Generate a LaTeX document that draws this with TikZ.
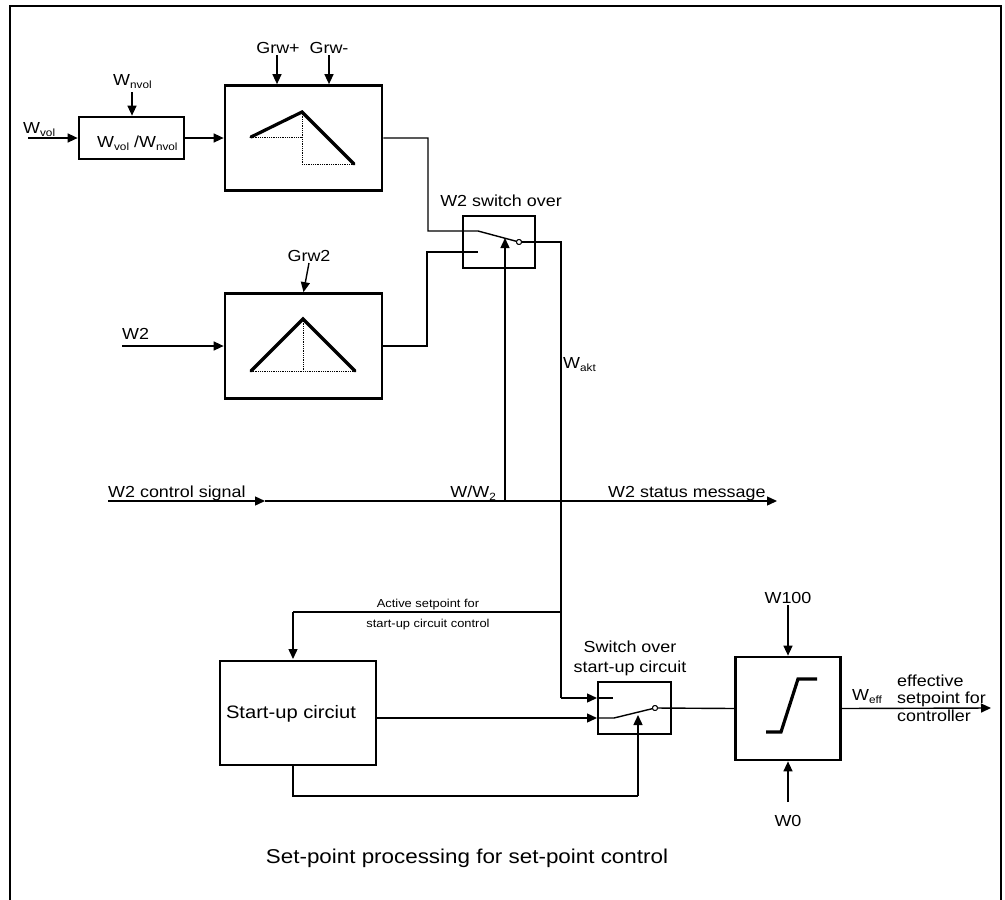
\documentclass[tikz,border=0pt]{standalone}
\usepackage{fontspec}
\setmainfont{Liberation Sans}[FakeStretch=1.12]
\usetikzlibrary{arrows.meta}
\newcommand\sbs[1]{\raisebox{-3pt}{\fontsize{10.5}{11}\selectfont #1}}
\begin{document}
\begin{tikzpicture}[x=1pt,y=-1pt,
  box/.style={draw,line width=2.7pt,inner sep=0pt},
  conn/.style={line width=1.4pt},
  arr/.style={conn,-{Triangle[length=10pt,width=9pt]}},
  thickl/.style={line width=3.2pt,line cap=round,line join=miter},
  dotl/.style={line width=0.8pt,densely dotted},
  lbl/.style={font=\fontsize{16}{18}\selectfont,inner sep=0pt},
  small/.style={font=\fontsize{11.5}{13}\selectfont,inner sep=0pt},
  contact/.style={circle,draw,fill=white,inner sep=0pt,minimum size=5pt,line width=0.9pt}]
\useasboundingbox (0,0) rectangle (1005,900);
\clip (0,0) rectangle (1005,900);
\fill[white] (0,0) rectangle (1005,900);
\draw[line width=2.4pt] (10,6) rectangle (1001,930);

% blocks
\node[box,minimum width=105pt,minimum height=42pt] (div) at (131.5,138) {};
\node[box,minimum width=157pt,minimum height=105pt] (ramp1) at (303.5,138) {};
\node[box,minimum width=72pt,minimum height=52pt] (sw1) at (499,242) {};
\node[box,minimum width=157pt,minimum height=105pt] (ramp2) at (303.5,346) {};
\node[box,minimum width=156pt,minimum height=104pt] (startup) at (298,713) {};
\node[box,minimum width=73pt,minimum height=52pt] (sw2) at (634.5,708) {};
\node[box,minimum width=105pt,minimum height=103pt] (lim) at (788,708.5) {};

% ramp symbols
\draw[dotl] (251,137) -- (302,137) (302,112) -- (302,164) -- (354,164);
\draw[thickl] (251,137) -- (302,112) -- (354,164);
\draw[dotl] (251,371) -- (355,371) (303,319) -- (303,371);
\draw[thickl] (251,371) -- (303,319) -- (355,371);
\draw[thickl,line cap=butt] (766,732) -- (781,732) -- (798,679) -- (817,679);

% coordinates
\coordinate (wvolin) at (28,138);
\coordinate (wnvolin) at (132,92);
\coordinate (grwpin) at (277,55);
\coordinate (grwmin) at (329,55);
\coordinate (j1) at (428,138);
\coordinate (j1b) at (428,231);
\coordinate (s1a) at (478,231);
\node[contact] (c1) at (519,242) {};
\coordinate (w2in) at (122,346);
\coordinate (grw2in) at (309,263);
\coordinate (j2) at (427,346);
\coordinate (j2b) at (427,252);
\coordinate (s1b) at (478,252);
\coordinate (wakt1) at (561,242);
\coordinate (wakt2) at (561,612);
\coordinate (wakt3) at (561,698);
\coordinate (ctrl0) at (108,501);
\coordinate (ctrlmid) at (265,501);
\coordinate (ctrlend) at (777,501);
\coordinate (ww2) at (505,501);
\coordinate (s1ctl) at (505,238);
\coordinate (asp) at (293,612);
\coordinate (aspend) at (293,659);
\coordinate (s2in1) at (597,698);
\coordinate (s2a) at (613,698);
\coordinate (s2in2) at (597,718);
\coordinate (s2b) at (614,718);
\node[contact] (c2) at (655,708) {};
\coordinate (sub0) at (293,765);
\coordinate (sub1) at (293,796);
\coordinate (s2ctlb) at (638,796);
\coordinate (s2ctl) at (638,715);
\coordinate (w100in) at (788,605);
\coordinate (w0in) at (788,802);
\coordinate (effout) at (991,708);

% connectors
\draw[arr] (wvolin) -- (div.west);
\draw[arr] (wnvolin) -- (div.north -| wnvolin);
\draw[arr] (div.east) -- (ramp1.west);
\draw[arr] (grwpin) -- (ramp1.north -| grwpin);
\draw[arr] (grwmin) -- (ramp1.north -| grwmin);
\draw[conn] (ramp1.east) -- (j1) -- (j1b) -- (s1a) -- (c1);
\draw[conn] (c1) -- (wakt1) -- (wakt2) -- (wakt3);
\draw[arr] (wakt3) -- (s2in1);
\draw[conn] (s2in1) -- (s2a);
\draw[arr] (w2in) -- (ramp2.west);
\draw[arr] (grw2in) -- (ramp2.north);
\draw[conn] (ramp2.east) -- (j2) -- (j2b) -- (s1b);
\draw[arr] (ctrl0) -- (ctrlmid);
\draw[arr] (ctrlmid) -- (ctrlend);
\draw[arr] (ww2) -- (s1ctl);
\draw[conn] (wakt2) -- (asp);
\draw[arr] (asp) -- (aspend);
\draw[arr] (startup.east |- s2in2) -- (s2in2);
\draw[conn] (s2in2) -- (s2b) -- (c2);
\draw[conn] (c2) -- (lim.west);
\draw[conn] (sub0) -- (sub1) -- (s2ctlb);
\draw[arr] (s2ctlb) -- (s2ctl);
\draw[arr] (w100in) -- (lim.north);
\draw[arr] (w0in) -- (lim.south);
\draw[arr] (lim.east) -- (effout);
\node[contact] (c1b) at (519,242) {};
\node[contact] (c2b) at (655,708) {};

% labels
\node[lbl,anchor=base west] (lwvol) at (23,133) {W\sbs{vol}};
\node[lbl,anchor=base west] (lwnvol) at (113,85) {W\sbs{nvol}};
\node[lbl,anchor=base west] (ldiv) at (97,147) {W\sbs{vol} /W\sbs{nvol}};
\node[lbl,anchor=base] (lgrwp) at (278,53) {Grw+};
\node[lbl,anchor=base] (lgrwm) at (329,53) {Grw-};
\node[lbl,anchor=base] (lsw1) at (501,206) {W2 switch over};
\node[lbl,anchor=base] (lgrw2) at (309,261) {Grw2};
\node[lbl,anchor=base west] (lw2) at (122,339) {W2};
\node[lbl,anchor=base west] (lwakt) at (563,368) {W\sbs{akt}};
\node[lbl,anchor=base west] (lctrl) at (108,497) {W2 control signal};
\node[lbl,anchor=base east] (lww2) at (496,497) {W/W\sbs{2}};
\node[lbl,anchor=base west] (lstat) at (608,497) {W2 status message};
\node[small,anchor=base] (lasp1) at (428,607) {Active setpoint for};
\node[small,anchor=base] (lasp2) at (428,627) {start-up circuit control};
\node[lbl,anchor=base] (lsw2a) at (630,652) {Switch over};
\node[lbl,anchor=base] (lsw2b) at (630,672) {start-up circuit};
\node[lbl,anchor=base,font=\fontsize{18}{20}\selectfont] (lsu) at (291,718) {Start-up circiut};
\node[lbl,anchor=base] (lw100) at (788,603) {W100};
\node[lbl,anchor=base] (lw0) at (788,826) {W0};
\node[lbl,anchor=base west] (lweff) at (852,700) {W\sbs{eff}};
\node[lbl,anchor=base west] (leff1) at (897,686) {effective};
\node[lbl,anchor=base west] (leff2) at (897,703) {setpoint for};
\node[lbl,anchor=base west] (leff3) at (897,721) {controller};
\node[lbl,anchor=base,font=\fontsize{20}{22}\selectfont] (ltitle) at (467,863) {Set-point processing for set-point control};
\end{tikzpicture}
\end{document}
